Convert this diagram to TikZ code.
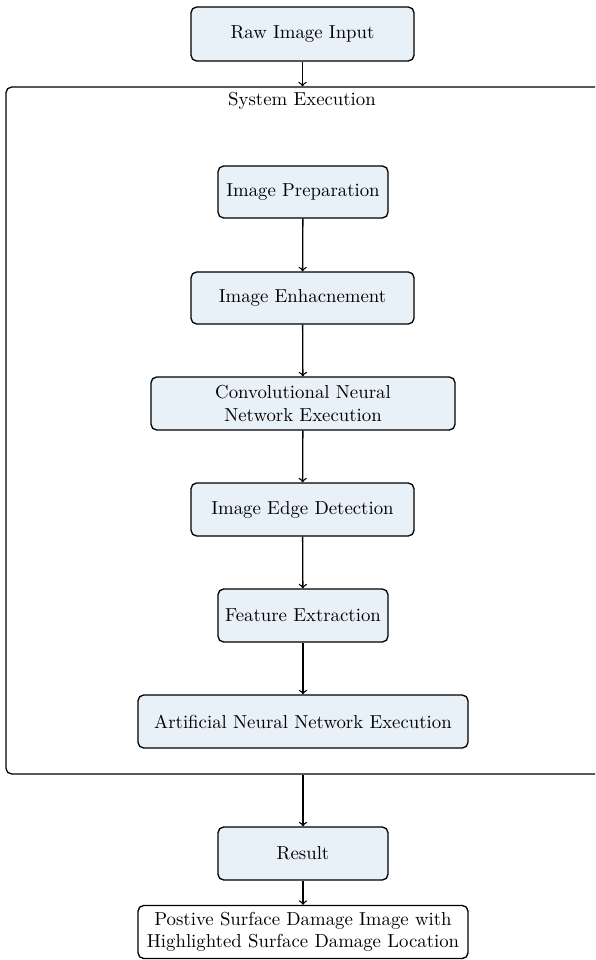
\documentclass[tikz,border=0pt]{standalone}
\usetikzlibrary{arrows}
\definecolor{boxfill}{RGB}{232,240,248}
\def\pu{0.532pt}
\begin{document}
\begin{tikzpicture}[x=0.532pt,y=-0.532pt,
  box/.style={draw, line width=0.7pt, rounded corners=3pt, fill=boxfill, align=center, inner sep=2pt},
  whitebox/.style={draw, line width=0.7pt, rounded corners=3pt, fill=white, align=center, inner sep=2pt},
  container/.style={draw, line width=0.7pt, rounded corners=3pt},
  conn/.style={->, line width=0.7pt}]
\clip (0,0) rectangle (595,960);
\node[container, minimum width=614*\pu, minimum height=687*\pu] (sys) at (313,430.5) {};
\node (syslabel) at (302,101) {System Execution};
\node[box, minimum width=223*\pu, minimum height=54*\pu] (raw) at (302.5,34) {Raw Image Input};
\node[box, minimum width=170*\pu, minimum height=52*\pu] (prep) at (303,192) {Image Preparation};
\node[box, minimum width=223*\pu, minimum height=52*\pu] (enh) at (302.5,298) {Image Enhacnement};
\node[box, minimum width=304*\pu, minimum height=53*\pu] (cnn) at (303,403.5) {Convolutional Neural\\Network Execution};
\node[box, minimum width=223*\pu, minimum height=53*\pu] (edge) at (302.5,509.5) {Image Edge Detection};
\node[box, minimum width=170*\pu, minimum height=53*\pu] (feat) at (303,615.5) {Feature Extraction};
\node[box, minimum width=330*\pu, minimum height=53*\pu] (ann) at (303,721.5) {Artificial Neural Network Execution};
\node[box, minimum width=170*\pu, minimum height=53*\pu] (res) at (303,853.5) {Result};
\node[whitebox, minimum width=330*\pu, minimum height=53*\pu] (out) at (303,932) {Postive Surface Damage Image with\\Highlighted Surface Damage Location};
\draw[conn] (raw) -- (raw |- sys.north);
\draw[conn] (prep) -- (enh);
\draw[conn] (enh) -- (cnn);
\draw[conn] (cnn) -- (edge);
\draw[conn] (edge) -- (feat);
\draw[conn] (feat) -- (ann);
\draw[conn] (res |- sys.south) -- (res);
\draw[conn] (res) -- (out);
\end{tikzpicture}
\end{document}
